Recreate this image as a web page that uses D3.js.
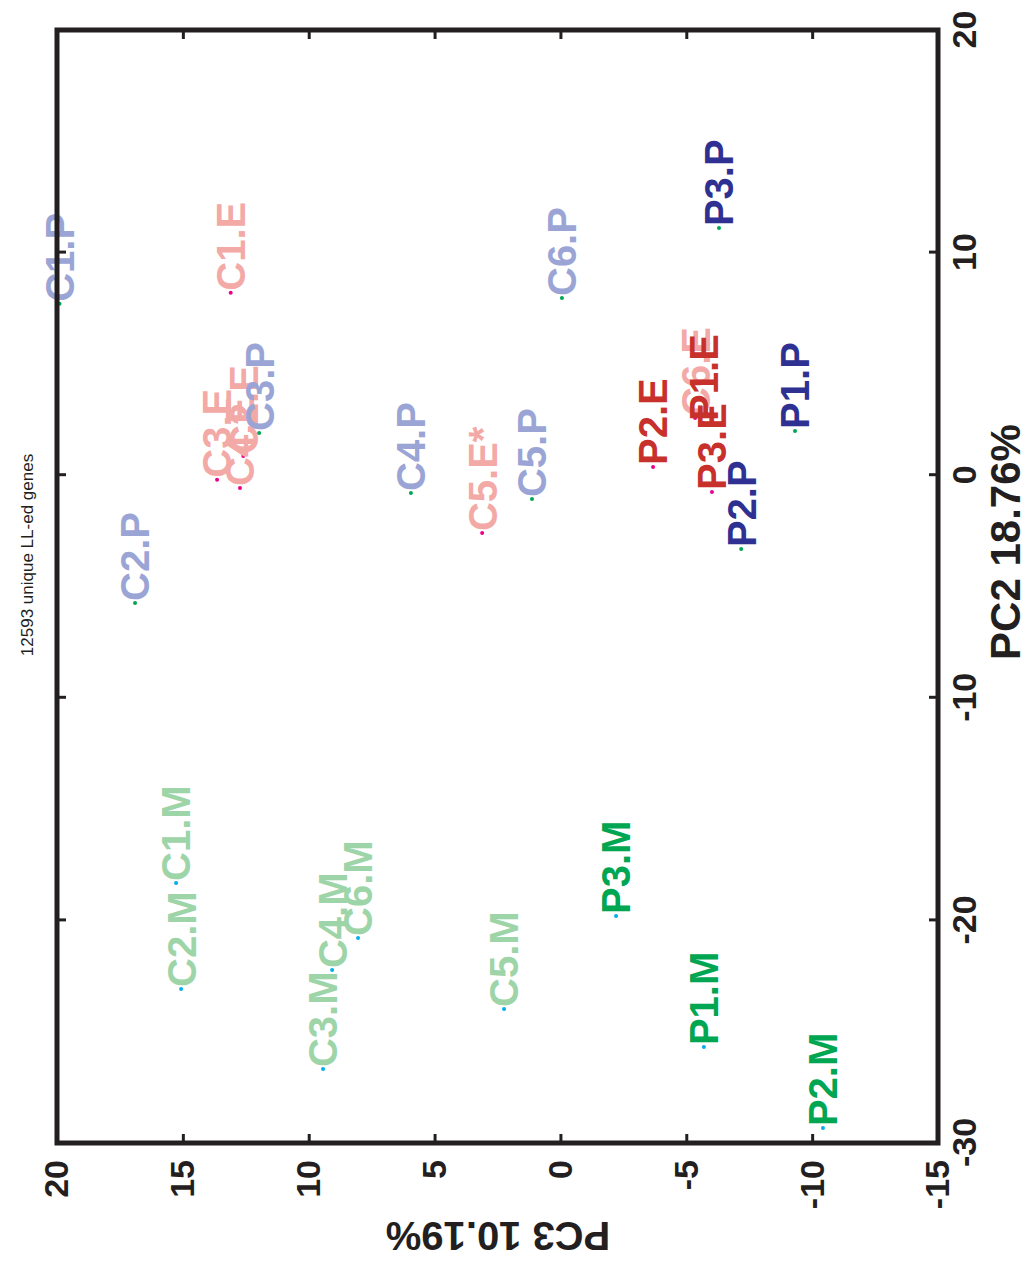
<!DOCTYPE html>
<html>
<head>
<meta charset="utf-8">
<script src="https://cdn.jsdelivr.net/npm/d3@7"></script>
<style>
  body { margin: 0; background: #fff; }
  text { font-family: "Liberation Sans", Arial, Helvetica, sans-serif; }
</style>
</head>
<body>
<script>
// the figure is a MATLAB plot turned 90 degrees counter-clockwise
var pageW = 1029, pageH = 1268

var pc2Ticks = [-30, -20, -10, 0, 10, 20]
var pc3Ticks = [-15, -10, -5, 0, 5, 10, 15, 20]

// samples, drawn in this order (later ones on top)
var names = ["C1.E", "C2.E", "C3.E", "C4.E", "C5.E*", "C6.E", "P1.E", "P2.E", "P3.E",
             "C1.P", "C2.P", "C3.P", "C4.P", "C5.P", "C6.P", "P1.P", "P2.P", "P3.P",
             "C1.M", "C2.M", "C3.M", "C4.M", "C5.M", "C6.M", "P1.M", "P2.M", "P3.M"]
var pc2 = [8.2, 0.86, -0.2, -0.57, -2.6, 2.57, 2.35, 0.37, -0.75,
           7.7, -5.74, 1.9, -0.8, -1.07, 7.96, 1.99, -3.32, 11.1,
           -18.32, -23.08, -26.68, -22.23, -23.98, -20.79, -25.69, -29.33, -19.8]
var pc3 = [13.1, 12.6, 13.64, 12.73, 3.11, -5.35, -5.67, -3.68, -6.02,
           19.9, 16.9, 11.97, 5.94, 1.13, -0.06, -9.32, -7.18, -6.3,
           15.27, 15.07, 9.43, 9.07, 2.24, 8.04, -5.7, -10.43, -2.21]
var groups = ["CE", "CE", "CE", "CE", "CE", "CE", "PE", "PE", "PE",
              "CP", "CP", "CP", "CP", "CP", "CP", "PP", "PP", "PP",
              "CM", "CM", "CM", "CM", "CM", "CM", "PM", "PM", "PM"]

var textColor = {CE: "#f3aaa6", PE: "#c8302c", CP: "#9ba5d5", PP: "#2e3192", CM: "#9dd4a8", PM: "#00a651"}
var dotColor = {CE: "#ec008c", PE: "#ec008c", CP: "#00a651", PP: "#00a651", CM: "#00aeef", PM: "#00aeef"}

var data = names.map((n, i) => ({name: n, x: pc2[i], y: pc3[i], g: groups[i]}))

// plot area in the un-rotated frame
var plotL = 125, plotR = 1238, plotT = 57, plotB = 938

var x = d3.scaleLinear().domain([-30, 20]).range([plotL, plotR])
var y = d3.scaleLinear().domain([-15, 20]).range([plotB, plotT])

var svg = d3.select("body").append("svg")
    .attr("width", pageW)
    .attr("height", pageH)

var plot = svg.append("g")
    .attr("transform", "translate(0," + pageH + ") rotate(-90)")

// labels first, the box is drawn over them like in matlab
var pts = plot.append("g").selectAll("g")
    .data(data)
    .enter()
    .append("g")
    .attr("transform", (d) => {return "translate(" + x(d.x) + "," + y(d.y) + ")"})

pts.append("circle")
    .attr("r", 2)
    .attr("fill", (d) => {return dotColor[d.g]})

pts.append("text")
    .attr("x", 2)
    .attr("dy", "0.36em")
    .attr("fill", (d) => {return textColor[d.g]})
    .style("font-size", "40px")
    .style("font-weight", "bold")
    .text((d) => {return d.name})

var tickFont = 34
var fmt = (d) => {return String(d)}

var axB = plot.append("g")
    .attr("transform", "translate(0," + plotB + ")")
    .call(d3.axisBottom(x).tickValues(pc2Ticks).tickSize(-9).tickPadding(14).tickFormat(fmt))
var axT = plot.append("g")
    .attr("transform", "translate(0," + plotT + ")")
    .call(d3.axisTop(x).tickValues(pc2Ticks).tickSize(-9).tickFormat(""))
var axL = plot.append("g")
    .attr("transform", "translate(" + plotL + ",0)")
    .call(d3.axisLeft(y).tickValues(pc3Ticks).tickSize(-9).tickPadding(17).tickFormat(fmt))
var axR = plot.append("g")
    .attr("transform", "translate(" + plotR + ",0)")
    .call(d3.axisRight(y).tickValues(pc3Ticks).tickSize(-9).tickFormat(""))

;[axB, axT, axL, axR].forEach(a => {
    a.select(".domain").remove()
    a.selectAll("line").attr("stroke", "#231f20").attr("stroke-width", 3)
    a.selectAll("text")
        .attr("fill", "#231f20")
        .style("font-size", tickFont + "px")
        .style("font-weight", "bold")
})

plot.append("rect")
    .attr("x", plotL)
    .attr("y", plotT)
    .attr("width", plotR - plotL)
    .attr("height", plotB - plotT)
    .attr("fill", "none")
    .attr("stroke", "#231f20")
    .attr("stroke-width", 5)

// axis titles and the small title
plot.append("text")
    .attr("x", 726)
    .attr("y", 1020)
    .attr("text-anchor", "middle")
    .attr("fill", "#231f20")
    .style("font-size", "42px")
    .style("font-weight", "bold")
    .text("PC2 18.76%")

plot.append("text")
    .attr("transform", "translate(46,498) rotate(-90)")
    .attr("text-anchor", "middle")
    .attr("fill", "#231f20")
    .style("font-size", "40px")
    .style("font-weight", "bold")
    .text("PC3 10.19%")

plot.append("text")
    .attr("x", 713)
    .attr("y", 33)
    .attr("text-anchor", "middle")
    .attr("fill", "#231f20")
    .style("font-size", "17px")
    .text("12593 unique LL-ed genes")
</script>
</body>
</html>
